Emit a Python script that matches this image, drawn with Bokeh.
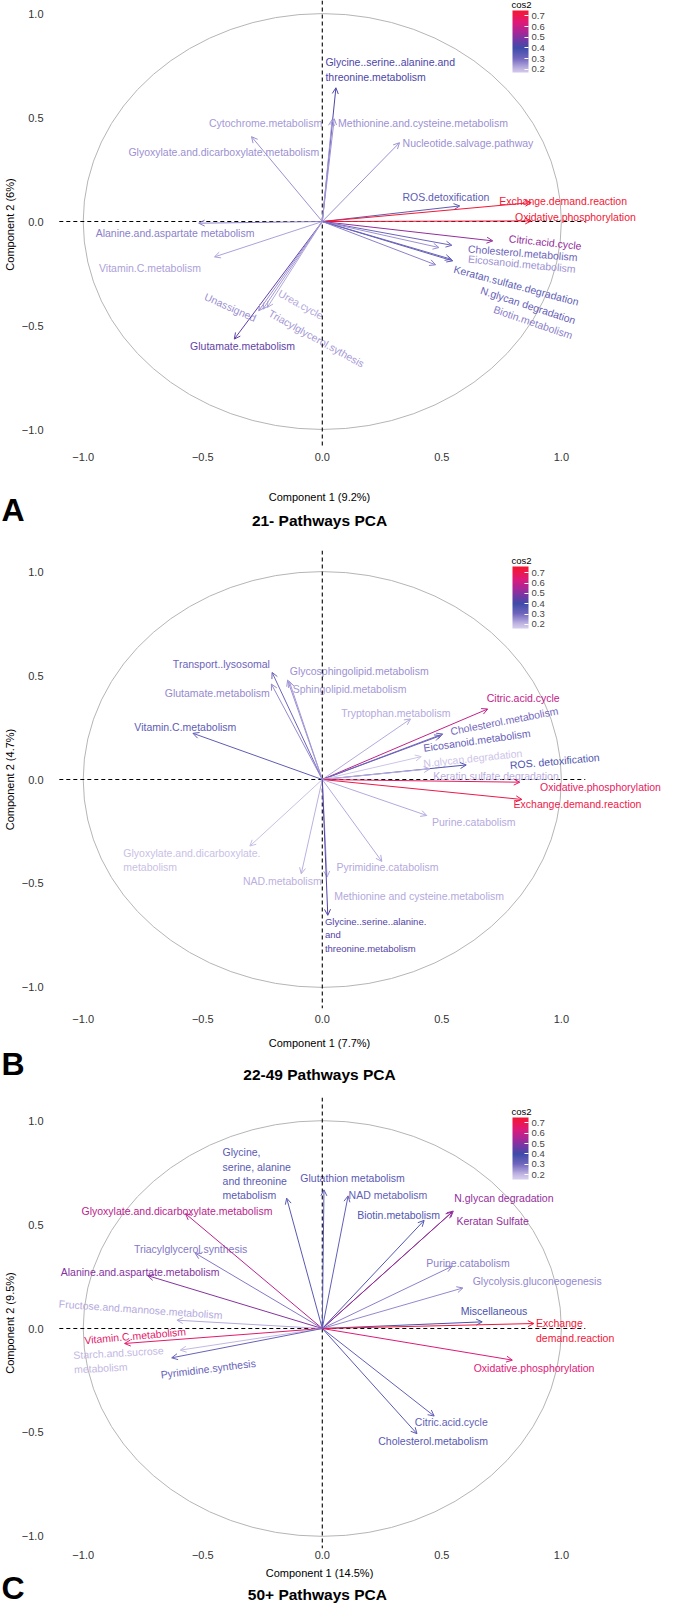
import numpy as np
from bokeh.plotting import figure
from bokeh.models import (Range1d, ColumnDataSource, Arrow, OpenHead, ColorBar,
                          LinearColorMapper, FixedTicker, Label, Span, AllLabels)
from bokeh.layouts import column, row
from bokeh.embed import file_html
from bokeh.resources import INLINE
from bokeh.core.properties import value
from bokeh.transform import transform

FONT = "Liberation Sans"

# ---------------- Panel A : 21- Pathways ----------------
a_names = ["Glycine..serine..alanine.and\nthreonine.metabolism", "Methionine.and.cysteine.metabolism",
           "Cytochrome.metabolism", "Glyoxylate.and.dicarboxylate.metabolism", "Nucleotide.salvage.pathway",
           "ROS.detoxification", "Exchange.demand.reaction", "Oxidative.phosphorylation", "Citric.acid.cycle",
           "Cholesterol.metabolism", "Eicosanoid.metabolism", "Keratan.sulfate.degradation",
           "N.glycan degradation", "Biotin.metabolism", "Alanine.and.aspartate metabolism",
           "Vitamin.C.metabolism", "Glutamate.metabolism", "Unassigned", "Urea.cycle",
           "Triacylglycerol.sythesis"]
a_x = [0.057, 0.050, 0.041, -0.296, 0.323, 0.575, 0.874, 0.874, 0.713, 0.542, 0.488, 0.546, 0.539,
       0.474, -0.517, -0.451, -0.368, -0.266, -0.230, -0.248]
a_y = [0.643, 0.494, 0.490, 0.408, 0.379, 0.075, 0.091, 0.003, -0.093, -0.114, -0.125, -0.189, -0.181,
       -0.208, -0.008, -0.170, -0.565, -0.429, -0.413, -0.421]
a_cos2 = [0.42, 0.25, 0.24, 0.25, 0.25, 0.34, 0.77, 0.76, 0.52, 0.31, 0.25, 0.33, 0.32, 0.27, 0.27,
          0.23, 0.45, 0.25, 0.22, 0.24]
a_xlab = "Component 1 (9.2%)"
a_ylab = "Component 2 (6%)"
a_title = "21- Pathways PCA"
a_cb_range = [0.17, 0.75]

# ---------------- Panel B : 22-49 Pathways ----------------
b_names = ["Transport..lysosomal", "Glutamate.metabolism", "Glycosphingolipid.metabolism",
           "Sphingolipid.metabolism", "Vitamin.C.metabolism", "Tryptophan.metabolism", "Citric.acid.cycle",
           "Cholesterol.metabolism", "Eicosanoid.metabolism", "N.glycan.degradation", "ROS. detoxification",
           "Keratin.sulfate.degradation", "Oxidative.phosphorylation", "Exchange.demand.reaction",
           "Purine.catabolism", "Glyoxylate.and.dicarboxylate.\nmetabolism", "NAD.metabolism",
           "Pyrimidine.catabolism", "Methionine and cysteine.metabolism",
           "Glycine..serine..alanine.\nand\nthreonine.metabolism"]
b_x = [-0.210, -0.213, -0.145, -0.138, -0.541, 0.369, 0.692, 0.504, 0.495, 0.414, 0.602, 0.450, 0.826,
       0.835, 0.437, -0.303, -0.088, 0.249, 0.020, 0.023]
b_y = [0.515, 0.459, 0.478, 0.472, 0.222, 0.291, 0.339, 0.219, 0.211, 0.110, 0.070, 0.051, -0.013,
       -0.096, -0.173, -0.320, -0.453, -0.394, -0.469, -0.653]
b_cos2 = [0.31, 0.26, 0.25, 0.24, 0.34, 0.22, 0.59, 0.30, 0.32, 0.18, 0.37, 0.21, 0.68, 0.71, 0.22,
          0.19, 0.21, 0.22, 0.22, 0.43]
b_xlab = "Component 1 (7.7%)"
b_ylab = "Component 2 (4.7%)"
b_title = "22-49 Pathways PCA"
b_cb_range = [0.16, 0.76]

# ---------------- Panel C : 50+ Pathways ----------------
c_names = ["Glycine,\nserine, alanine\nand threonine\nmetabolism", "Glutathion metabolism", "NAD metabolism",
           "N.glycan degradation", "Keratan Sulfate", "Biotin.metabolism",
           "Glyoxylate.and.dicarboxylate.metabolism", "Triacylglycerol.synthesis",
           "Alanine.and.aspartate.metabolism", "Purine.catabolism", "Glycolysis.gluconeogenesis",
           "Miscellaneous", "Exchange\ndemand.reaction", "Fructose.and.mannose.metabolism",
           "Vitamin.C.metabolism", "Starch.and.sucrose\nmetabolism", "Pyrimidine.synthesis",
           "Oxidative.phosphorylation", "Citric.acid.cycle", "Cholesterol.metabolism"]
c_x = [-0.149, 0.007, 0.108, 0.548, 0.543, 0.426, -0.572, -0.532, -0.730, 0.543, 0.588, 0.669, 0.885,
       -0.608, -0.827, -0.594, -0.630, 0.795, 0.468, 0.396]
c_y = [0.627, 0.667, 0.638, 0.565, 0.560, 0.520, 0.552, 0.363, 0.254, 0.299, 0.195, 0.032, 0.024,
       0.040, -0.072, -0.104, -0.141, -0.152, -0.421, -0.506]
c_cos2 = [0.35, 0.35, 0.33, 0.52, 0.52, 0.36, 0.58, 0.28, 0.50, 0.27, 0.26, 0.38, 0.74, 0.22, 0.66,
          0.20, 0.32, 0.64, 0.33, 0.35]
c_xlab = "Component 1 (14.5%)"
c_ylab = "Component 2 (9.5%)"
c_title = "50+  Pathways PCA"
c_cb_range = [0.155, 0.75]

cb_ticks = [0.2, 0.3, 0.4, 0.5, 0.6, 0.7]
axis_ticks = [-1.0, -0.5, 0.0, 0.5, 1.0]

# ---------------- label placement (offsets from arrow tips, data units; angle in degrees) ----------------
a_lab_dx = [-0.044, 0.016, -0.515, -0.515, 0.013, -0.240, -0.134, -0.068, 0.068, 0.068, 0.122, 0.005,
            0.125, 0.244, -0.431, -0.483, -0.185, -0.224, 0.050, 0.027]
a_lab_dy = [0.087, -0.022, -0.018, -0.074, 0.0, 0.045, 0.008, 0.021, 0.013, -0.016, -0.053, -0.037,
            -0.147, -0.211, -0.045, -0.051, -0.032, 0.072, 0.073, -0.015]
a_lab_ang = [0, 0, 0, 0, 0, 0, 0, 0, -6, -4.5, -5.5, -15, -18, -19, 0, 0, 0, -24, -29, -29]
a_lab_size = ["10.5px"] * 20

b_lab_dx = [-0.415, -0.446, 0.009, 0.014, -0.245, -0.290, -0.004, 0.032, -0.072, 0.009, 0.183, 0.014,
            0.085, -0.035, 0.022, -0.529, -0.244, -0.190, 0.030, -0.012]
b_lab_dy = [0.040, -0.045, 0.045, -0.037, 0.029, 0.029, 0.051, 0.013, -0.059, -0.032, 0.0, -0.032,
            -0.021, -0.021, -0.029, -0.066, -0.037, -0.025, -0.091, -0.094]
b_lab_ang = [0, 0, 0, 0, 0, 0, 0, 11, 8, 6, 5, 0, 0, 0, 0, 0, 0, 0, 0, 0]
b_lab_size = ["10.5px"] * 19 + ["9.5px"]

c_lab_dx = [-0.268, -0.099, 0.002, 0.004, 0.018, -0.280, -0.435, -0.256, -0.364, -0.108, 0.041, -0.090,
            0.009, -0.494, -0.168, -0.446, -0.046, -0.162, -0.081, -0.162]
c_lab_dy = [0.117, 0.056, 0.004, 0.062, -0.045, 0.026, 0.014, 0.019, 0.016, 0.016, 0.035, 0.050,
            -0.034, 0.080, 0.016, -0.058, -0.080, -0.037, -0.029, -0.035]
c_lab_ang = [0, 0, 0, 0, 0, 0, 0, 0, 0, 0, 0, 0, 0, -4, 5, 3, 7, 0, 0, 0]
c_lab_size = ["10.5px"] * 20

# ---------------- colour gradient (cos2) ----------------
GRAD_STOPS = [0.15, 0.20, 0.25, 0.30, 0.40, 0.48, 0.56, 0.64, 0.72, 0.80]
GRAD_COLS = ["#DDD5F1", "#C3B8E3", "#9C90D2", "#7267BD", "#3E4BA8", "#7637A4", "#B02593",
             "#DE1A78", "#F01843", "#F7151E"]


def make_palette(lo, hi, n=256):
    rgb = np.array([[int(c[i:i + 2], 16) for i in (1, 3, 5)] for c in GRAD_COLS], dtype=float)
    out = []
    for v in np.linspace(lo, hi, n):
        r, g, b = (np.interp(v, GRAD_STOPS, rgb[:, k]) for k in range(3))
        out.append("#%02x%02x%02x" % (int(round(r)), int(round(g)), int(round(b))))
    return out


# ---------------- page geometry (pixels) ----------------
FIG_W = 669
BORDER_L = 41                       # room for y tick labels and y title
UNIT_PX = 241.0                     # pixels per correlation unit (x)
ORIGIN_PX = 319.0                   # x of origin inside a figure
X0 = (BORDER_L - ORIGIN_PX) / UNIT_PX
X1 = (FIG_W - ORIGIN_PX) / UNIT_PX
LIM = 1.1                           # extent of dashed reference axes


def bare_figure(w, h, xr, yr):
    f = figure(width=w, height=h, x_range=xr, y_range=yr, output_backend="svg", toolbar_location=None,
               min_border_left=0, min_border_right=0, min_border_top=0, min_border_bottom=0,
               x_axis_type=None, y_axis_type=None, title=None)
    f.outline_line_color = None
    f.grid.visible = False
    return f


def make_panel(names, xs, ys, cos2, ldx, ldy, lang, lsize, cb_range, xlab, ylab, title, letter, g):
    mapper = LinearColorMapper(palette=make_palette(*cb_range), low=cb_range[0], high=cb_range[1])
    p = figure(width=FIG_W, height=g["h"], x_range=Range1d(X0, X1),
               y_range=Range1d(g["yb"], g["yt"]), output_backend="svg", toolbar_location=None,
               min_border_left=BORDER_L, min_border_right=0, min_border_top=g["bt"],
               min_border_bottom=g["bb"], title=None)
    p.outline_line_color = None
    p.grid.visible = False
    p.background_fill_color = "white"
    p.border_fill_color = "white"

    for ax in (p.xaxis[0], p.yaxis[0]):
        ax.ticker = FixedTicker(ticks=axis_ticks)
        ax.major_label_overrides = {-1.0: "\u22121.0", -0.5: "\u22120.5", 0.0: "0.0", 0.5: "0.5", 1.0: "1.0"}
        ax.axis_line_color = None
        ax.major_tick_line_color = None
        ax.minor_tick_line_color = None
        ax.major_tick_out = 0
        ax.major_tick_in = 0
        ax.minor_tick_out = 0
        ax.major_label_text_font = FONT
        ax.major_label_text_font_size = "11px"
        ax.major_label_text_color = "#333333"
    p.xaxis[0].major_label_standoff = g["xs"]
    p.yaxis[0].major_label_standoff = 3
    p.yaxis[0].axis_label = ylab
    p.yaxis[0].axis_label_text_font = FONT
    p.yaxis[0].axis_label_text_font_size = "11px"
    p.yaxis[0].axis_label_text_font_style = "normal"
    p.yaxis[0].axis_label_text_color = "black"
    p.yaxis[0].axis_label_standoff = 3

    # correlation circle
    p.ellipse(x=0, y=0, width=2, height=2, fill_color=None, line_color="#b5b5b5", line_width=1)
    # dashed reference axes
    p.add_layout(Span(location=0, dimension="height", line_color="black", line_dash="4 3", line_width=1.1))
    p.segment(x0=[-LIM], y0=[0], x1=[LIM], y1=[0], line_color="black", line_dash="4 3", line_width=1.1)

    xs_a = np.array(xs)
    ys_a = np.array(ys)
    src = ColumnDataSource(dict(
        x=xs_a, y=ys_a, cos2=cos2, name=names,
        lx=xs_a + np.array(ldx), ly=ys_a + np.array(ldy),
        ang=np.radians(np.array(lang, dtype=float)), fs=lsize))
    col = transform("cos2", mapper)
    arrows = Arrow(end=OpenHead(size=6, line_width=1, line_color=col),
                   x_start=0, y_start=0, x_end="x", y_end="y",
                   line_color=col, line_width=1, source=src)
    p.add_layout(arrows)
    p.text(x="lx", y="ly", text="name", angle="ang", source=src, text_color=col,
           text_font=value(FONT), text_font_size="fs", text_align="left",
           text_baseline="middle", text_line_height=1.2)

    cbx, cby = g["cb"]
    cb = ColorBar(color_mapper=mapper, location=(cbx, cby), orientation="vertical", width=16, height=62,
                  major_label_text_font=FONT, major_label_text_font_size="9.5px",
                  major_label_policy=AllLabels(),
                  ticker=FixedTicker(ticks=cb_ticks), major_tick_line_color="white",
                  major_tick_in=4, major_tick_out=0, bar_line_color=None, border_line_color=None,
                  background_fill_color=None, padding=0, label_standoff=3)
    p.add_layout(cb)
    p.add_layout(Label(x=cbx + 9, y=cby + 68, x_units="screen", y_units="screen", text="cos2",
                       text_font=FONT, text_font_size="9.5px", text_align="center",
                       text_baseline="middle", text_color="black"))

    # strip below: panel letter (left cell), x title and panel title (cell aligned with the frame)
    sh = g["sh"]
    lf = bare_figure(BORDER_L, sh, Range1d(0, BORDER_L), Range1d(0, sh))
    lf.text(x=[1], y=[g["sl"]], text=[letter], text_font=value(FONT), text_font_size="32px",
            text_font_style="bold", text_align="left", text_baseline="middle", text_color="black")
    tf = bare_figure(FIG_W - BORDER_L, sh, Range1d(X0, X1), Range1d(0, sh))
    tf.text(x=[0], y=[g["sx"]], text=[xlab], text_font=value(FONT), text_font_size="11px",
            text_align="center", text_baseline="middle", text_color="black")
    tf.text(x=[0], y=[g["st"]], text=[title], text_font=value(FONT), text_font_size="15.5px",
            text_font_style="bold", text_align="center", text_baseline="middle", text_color="black")
    return column(p, row(lf, tf, spacing=0), spacing=0)


geomA = dict(h=468, bt=0, bb=20, yb=-1.091, yt=1.0625, cb=(466, 376), xs=4,
             sh=72, sx=44, st=20, sl=31)
geomB = dict(h=488, bt=10, bb=20, yb=-1.101, yt=1.101, cb=(466, 380), xs=6,
             sh=56, sx=42, st=10, sl=21)
geomC = dict(h=478, bt=13, bb=14, yb=-1.058, yt=1.111, cb=(466, 369), xs=2,
             sh=44, sx=34, st=12, sl=19)

pA = make_panel(a_names, a_x, a_y, a_cos2, a_lab_dx, a_lab_dy, a_lab_ang, a_lab_size, a_cb_range,
                a_xlab, a_ylab, a_title, "A", geomA)
pB = make_panel(b_names, b_x, b_y, b_cos2, b_lab_dx, b_lab_dy, b_lab_ang, b_lab_size, b_cb_range,
                b_xlab, b_ylab, b_title, "B", geomB)
pC = make_panel(c_names, c_x, c_y, c_cos2, c_lab_dx, c_lab_dy, c_lab_ang, c_lab_size, c_cb_range,
                c_xlab, c_ylab, c_title, "C", geomC)

layout = column(pA, pB, pC, spacing=0)
open("out.html", "w").write(file_html(layout, INLINE))
